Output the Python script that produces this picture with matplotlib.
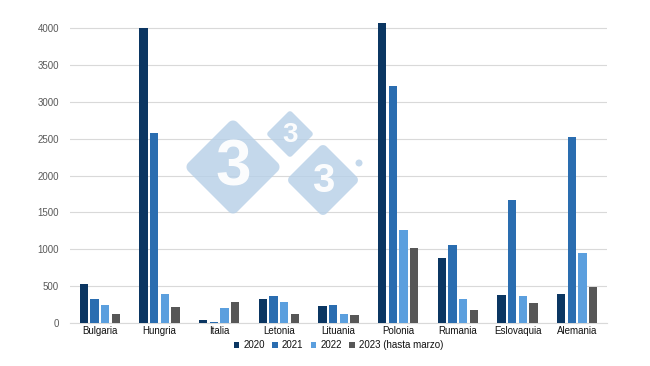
import matplotlib.pyplot as plt
import matplotlib.patches as mpatches
import numpy as np

plt.rcParams["font.family"] = ["Liberation Sans", "DejaVu Sans"]

paises = ["Bulgaria", "Hungria", "Italia", "Letonia", "Lituania",
          "Polonia", "Rumania", "Eslovaquia", "Alemania"]
v2020 = [530, 4000, 40, 320, 230, 4070, 880, 375, 400]
v2021 = [320, 2580, 15, 365, 248, 3215, 1058, 1668, 2522]
v2022 = [240, 395, 203, 285, 122, 1262, 321, 366, 953]
v2023 = [120, 213, 285, 120, 104, 1017, 172, 267, 488]
series = ["2020", "2021", "2022", "2023 (hasta marzo)"]
colores = ["#0b3662", "#2a6db0", "#5b9fde", "#575757"]

fig = plt.figure(figsize=(6.5, 3.66), dpi=100)
ax = fig.add_axes([0.1077, 0.1175, 0.8262, 0.836])

x = np.arange(len(paises))
paso = 0.18
ancho = 0.14
for i, (vals, nombre, c) in enumerate(zip([v2020, v2021, v2022, v2023], series, colores)):
    ax.bar(x + (i - 1.5) * paso, vals, ancho, color=c, label=nombre, zorder=3)

ax.set_xlim(-0.5, len(paises) - 0.5)
ax.set_ylim(0, 4150)
ax.set_yticks(range(0, 4001, 500))
ax.set_xticks(x)
ax.set_xticklabels(paises)
ax.tick_params(axis="both", length=0, labelsize=7)
ax.tick_params(axis="y", pad=8, colors="#595959")
ax.tick_params(axis="x", pad=2, labelcolor="#111111")
ax.grid(axis="y", color="#d9d9d9", linewidth=0.8, zorder=0)
for s in ["top", "right", "left"]:
    ax.spines[s].set_visible(False)
ax.spines["bottom"].set_color("#d9d9d9")

ax.legend(loc="upper center", bbox_to_anchor=(0.5, -0.04), ncol=4, frameon=False,
          fontsize=7, handlelength=0.55, handleheight=0.55, handletextpad=0.4,
          columnspacing=0.8, borderpad=0, labelcolor="#111111")

# marca de agua 333
azul = "#b6cfe7"


def rombo(cx, cy, h, tam, r=5):
    # rombo con esquinas redondeadas, en pixeles de la figura
    pts = []
    esquinas = [(cx - h, cy), (cx, cy - h), (cx + h, cy), (cx, cy + h)]
    ang0 = [180, 90, 0, 270]
    for (ex, ey), a in zip(esquinas, ang0):
        d = r * np.sqrt(2)
        ux, uy = cx - ex, cy - ey
        n = np.hypot(ux, uy)
        ox, oy = ex + ux / n * d, ey + uy / n * d
        for t in np.linspace(a + 45, a - 45, 8):
            pts.append((ox + r * np.cos(np.radians(t)), oy - r * np.sin(np.radians(t))))
    pts = [(px / 650, 1 - py / 366) for px, py in pts]
    fig.patches.append(mpatches.Polygon(pts, closed=True, transform=fig.transFigure,
                                        facecolor=azul, edgecolor="none", alpha=0.8, zorder=5))
    fig.text(cx / 650, 1 - (cy + 1) / 366, "3", color="white", fontsize=tam, fontweight="bold",
             ha="center", va="center", zorder=6, alpha=0.95)


rombo(233, 167, 49, 46, r=6)
rombo(290, 134, 24, 20, r=3)
rombo(323, 180, 37, 29, r=5)
fig.patches.append(mpatches.Ellipse((359 / 650, 1 - 163 / 366), 7 / 650, 7 / 366,
                                    transform=fig.transFigure, facecolor=azul,
                                    edgecolor="none", alpha=0.8, zorder=5))

fig.savefig("out.png", dpi=100)
